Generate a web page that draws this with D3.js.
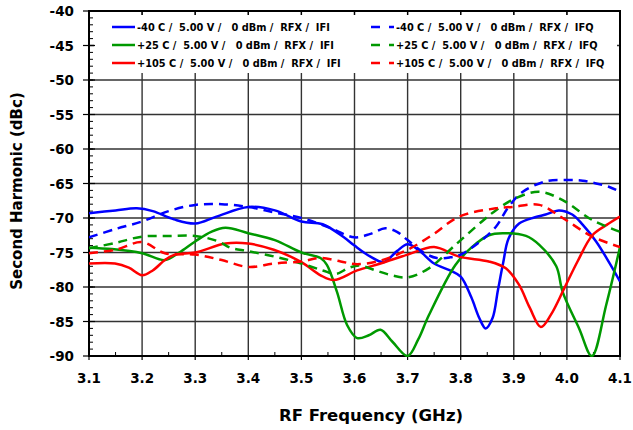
<!DOCTYPE html>
<html>
<head>
<meta charset="utf-8">
<script src="https://cdn.jsdelivr.net/npm/d3@7"></script>
<style>
  body { margin: 0; background: #fff; }
  text { font-family: "DejaVu Sans", Verdana, sans-serif; font-weight: bold; }
</style>
</head>
<body>
<div id="chart"></div>
<script>
// values
const xTicks = [3.1, 3.2, 3.3, 3.4, 3.5, 3.6, 3.7, 3.8, 3.9, 4.0, 4.1];
const yTicks = [-40, -45, -50, -55, -60, -65, -70, -75, -80, -85, -90];

const fM40I = [3.10, 3.15, 3.19, 3.22, 3.26, 3.30, 3.34, 3.40, 3.45, 3.50, 3.54, 3.58, 3.60, 3.63, 3.655, 3.68, 3.70, 3.72, 3.75, 3.78, 3.80, 3.82, 3.835, 3.847, 3.86, 3.87, 3.88, 3.89, 3.91, 3.94, 3.96, 3.985, 4.01, 4.03, 4.055, 4.08, 4.10];
const vM40I = [-69.3, -68.9, -68.6, -69.0, -70.2, -70.8, -69.8, -68.4, -68.9, -70.5, -70.9, -72.8, -74.0, -75.6, -76.4, -74.8, -73.8, -74.6, -76.6, -77.6, -78.5, -81.5, -84.5, -86.0, -84.5, -80.5, -76.5, -73.0, -70.8, -69.9, -69.5, -68.9, -69.5, -71.0, -73.4, -76.5, -79.2];

const fM40Q = [3.10, 3.15, 3.20, 3.25, 3.30, 3.35, 3.40, 3.45, 3.50, 3.55, 3.60, 3.63, 3.658, 3.68, 3.70, 3.73, 3.755, 3.78, 3.80, 3.83, 3.866, 3.89, 3.917, 3.96, 4.00, 4.03, 4.055, 4.08, 4.10];
const vM40Q = [-72.8, -71.6, -70.5, -69.0, -68.1, -68.0, -68.4, -69.2, -70.0, -71.3, -72.8, -72.3, -71.5, -72.0, -73.2, -75.0, -75.8, -75.7, -75.3, -73.8, -71.3, -68.4, -66.2, -64.7, -64.5, -64.6, -65.0, -65.5, -66.2];

const fP25I = [3.10, 3.143, 3.20, 3.243, 3.27, 3.30, 3.33, 3.357, 3.40, 3.45, 3.50, 3.536, 3.548, 3.567, 3.586, 3.605, 3.627, 3.649, 3.671, 3.70, 3.72, 3.74, 3.79, 3.82, 3.853, 3.879, 3.923, 3.948, 3.98, 3.992, 4.023, 4.047, 4.074, 4.10];
const vP25I = [-74.3, -74.5, -75.1, -76.1, -75.0, -73.4, -72.0, -71.4, -72.2, -73.2, -75.0, -75.8, -76.8, -80.7, -85.5, -87.4, -87.0, -86.2, -87.9, -90.0, -87.6, -84.1, -76.8, -74.3, -72.5, -72.2, -72.6, -73.9, -77.0, -80.7, -86.0, -90.0, -82.6, -74.2];

const fP25Q = [3.10, 3.15, 3.20, 3.25, 3.30, 3.344, 3.366, 3.40, 3.45, 3.50, 3.54, 3.565, 3.59, 3.61, 3.64, 3.67, 3.70, 3.74, 3.79, 3.84, 3.866, 3.904, 3.948, 3.992, 4.048, 4.10];
const vP25Q = [-74.4, -73.6, -72.7, -72.6, -72.6, -73.4, -74.3, -74.8, -75.6, -76.6, -77.6, -78.1, -77.2, -76.9, -77.6, -78.3, -78.6, -77.3, -73.9, -70.5, -68.9, -67.1, -66.2, -67.4, -70.3, -72.0];

const fP105I = [3.10, 3.149, 3.175, 3.20, 3.22, 3.243, 3.262, 3.30, 3.357, 3.40, 3.448, 3.50, 3.536, 3.561, 3.605, 3.649, 3.70, 3.75, 3.797, 3.853, 3.885, 3.91, 3.93, 3.951, 3.97, 3.995, 4.02, 4.048, 4.075, 4.10];
const vP105I = [-76.6, -76.6, -77.2, -78.3, -77.6, -76.1, -75.3, -75.0, -73.7, -73.7, -74.6, -76.4, -78.3, -79.0, -77.6, -76.6, -75.3, -74.2, -75.6, -76.3, -77.3, -79.7, -83.0, -85.8, -84.0, -80.2, -76.3, -72.5, -71.0, -69.8];

const fP105Q = [3.10, 3.15, 3.20, 3.243, 3.30, 3.35, 3.40, 3.448, 3.50, 3.536, 3.574, 3.605, 3.652, 3.70, 3.746, 3.797, 3.866, 3.897, 3.948, 3.992, 4.048, 4.10];
const vP105Q = [-75.1, -74.6, -73.5, -75.1, -75.3, -76.1, -77.1, -76.6, -76.3, -75.8, -76.3, -76.7, -76.1, -74.6, -72.5, -69.8, -68.6, -68.4, -68.1, -70.0, -72.7, -74.2];

const seriesNames = [
  "-40 C /  5.00 V /   0 dBm /  RFX /  IFI",
  "+25 C /  5.00 V /   0 dBm /  RFX /  IFI",
  "+105 C /  5.00 V /   0 dBm /  RFX /  IFI",
  "-40 C /  5.00 V /   0 dBm /  RFX /  IFQ",
  "+25 C /  5.00 V /   0 dBm /  RFX /  IFQ",
  "+105 C /  5.00 V /   0 dBm /  RFX /  IFQ"
];
const seriesColors = ["#0000ff", "#009900", "#ff0000", "#0000ff", "#009900", "#ff0000"];
const seriesDashed = [false, false, false, true, true, true];
const seriesF = [fM40I, fP25I, fP105I, fM40Q, fP25Q, fP105Q];
const seriesV = [vM40I, vP25I, vP105I, vM40Q, vP25Q, vP105Q];

const W = 633, H = 430;
const m = { left: 89, right: 13, top: 11, bottom: 74 };

const x = d3.scaleLinear().domain([3.1, 4.1]).range([m.left, W - m.right]);
const y = d3.scaleLinear().domain([-90, -40]).range([H - m.bottom, m.top]);

const svg = d3.select("#chart").append("svg")
  .attr("width", W).attr("height", H);

// grid
svg.append("g").selectAll("line").data(xTicks.slice(1, -1)).join("line")
  .attr("x1", d => x(d)).attr("x2", d => x(d))
  .attr("y1", m.top).attr("y2", H - m.bottom)
  .attr("stroke", "#333").attr("stroke-width", 1.4);
svg.append("g").selectAll("line").data(yTicks.slice(1, -1)).join("line")
  .attr("x1", m.left).attr("x2", W - m.right)
  .attr("y1", d => y(d)).attr("y2", d => y(d))
  .attr("stroke", "#333").attr("stroke-width", 1.4);

// legend box hides the grid behind it
svg.append("rect")
  .attr("x", 94).attr("y", 15).attr("width", 523).attr("height", 58)
  .attr("fill", "#fff");

// y minor ticks inside, major ticks outside
const yMinor = d3.range(-90, -39, 1);
svg.append("g").selectAll("line").data(yMinor).join("line")
  .attr("x1", m.left).attr("x2", m.left + 4)
  .attr("y1", d => y(d)).attr("y2", d => y(d))
  .attr("stroke", "#000").attr("stroke-width", 1);
svg.append("g").selectAll("line").data(yTicks).join("line")
  .attr("x1", m.left - 6).attr("x2", m.left + 6)
  .attr("y1", d => y(d)).attr("y2", d => y(d))
  .attr("stroke", "#000").attr("stroke-width", 1.2);

// x minor ticks inside, major outside
const xMinor = d3.range(0, 20).map(i => 3.15 + i * 0.1).filter(d => d < 4.1);
svg.append("g").selectAll("line").data(xMinor).join("line")
  .attr("x1", d => x(d)).attr("x2", d => x(d))
  .attr("y1", H - m.bottom).attr("y2", H - m.bottom - 4)
  .attr("stroke", "#000").attr("stroke-width", 1);
svg.append("g").selectAll("line").data(xTicks).join("line")
  .attr("x1", d => x(d)).attr("x2", d => x(d))
  .attr("y1", H - m.bottom).attr("y2", H - m.bottom + 4)
  .attr("stroke", "#000").attr("stroke-width", 1.2);
svg.append("g").selectAll("line").data(xTicks).join("line")
  .attr("x1", d => x(d)).attr("x2", d => x(d))
  .attr("y1", m.top).attr("y2", m.top + 4)
  .attr("stroke", "#000").attr("stroke-width", 1.2);

// frame
svg.append("rect")
  .attr("x", m.left).attr("y", m.top)
  .attr("width", W - m.left - m.right).attr("height", H - m.top - m.bottom)
  .attr("fill", "none").attr("stroke", "#000").attr("stroke-width", 2);

// tick labels
svg.append("g").selectAll("text").data(yTicks).join("text")
  .attr("x", 74).attr("y", d => y(d) + 5)
  .attr("text-anchor", "end").attr("font-size", 13.5)
  .text(d => d);
svg.append("g").selectAll("text").data(xTicks).join("text")
  .attr("x", d => x(d)).attr("y", 383)
  .attr("text-anchor", "middle").attr("font-size", 13.5)
  .text(d => d3.format(".1f")(d));

// axis titles
svg.append("text")
  .attr("transform", "translate(22,191) rotate(-90)")
  .attr("text-anchor", "middle").attr("font-size", 15)
  .text("Second Harmonic (dBc)");
svg.append("text")
  .attr("x", 371).attr("y", 421)
  .attr("text-anchor", "middle").attr("font-size", 16.5)
  .text("RF Frequency (GHz)");

// curves
svg.append("clipPath").attr("id", "clip").append("rect")
  .attr("x", m.left).attr("y", m.top - 1)
  .attr("width", W - m.left - m.right).attr("height", H - m.top - m.bottom + 2);

const line = d3.line()
  .x(d => x(d[0])).y(d => y(d[1]))
  .curve(d3.curveCatmullRom.alpha(0.5));

const plot = svg.append("g").attr("clip-path", "url(#clip)");
seriesF.forEach((fs, i) => {
  const pts = fs.map((f, k) => [f, seriesV[i][k]]);
  plot.append("path")
    .datum(pts)
    .attr("d", line)
    .attr("fill", "none")
    .attr("stroke", seriesColors[i])
    .attr("stroke-width", 2.5)
    .attr("stroke-dasharray", seriesDashed[i] ? "9,6" : null);
});

// legend
const rowY = [27, 45, 63];
const colX = [112, 371];
seriesNames.forEach((name, i) => {
  const col = Math.floor(i / 3), row = i % 3;
  const lx = colX[col], ly = rowY[row];
  svg.append("line")
    .attr("x1", lx).attr("x2", lx + 23)
    .attr("y1", ly).attr("y2", ly)
    .attr("stroke", seriesColors[i]).attr("stroke-width", 2.5)
    .attr("stroke-dasharray", seriesDashed[i] ? "9,9" : null);
  svg.append("text")
    .attr("x", lx + 25).attr("y", ly + 4)
    .attr("font-size", 9.8)
    .attr("xml:space", "preserve")
    .style("white-space", "pre")
    .text(name);
});
</script>
</body>
</html>
